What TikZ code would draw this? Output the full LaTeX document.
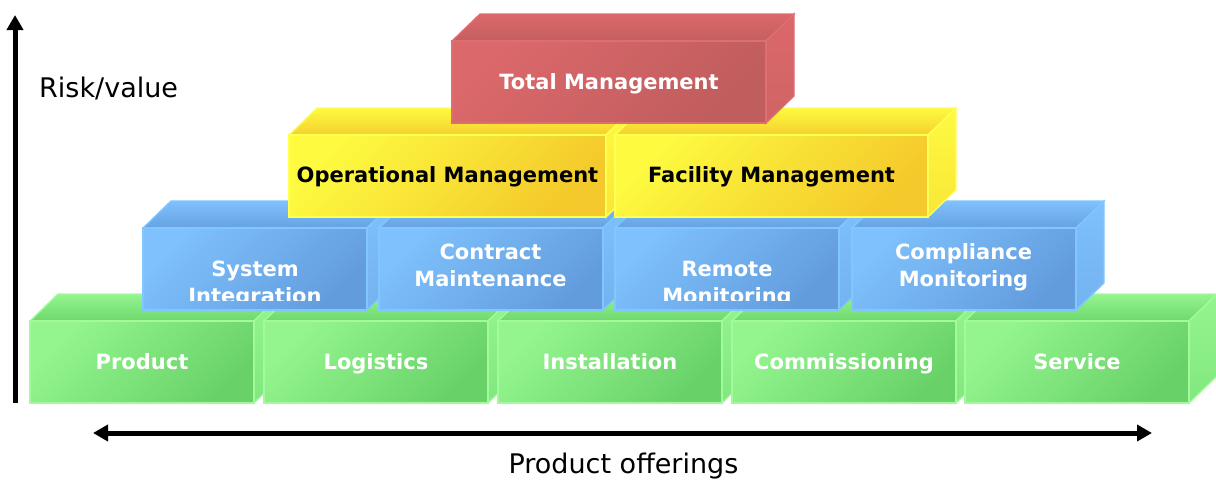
\documentclass[tikz,border=0pt]{standalone}
\usepackage{fontspec}
\setmainfont{DejaVu Sans}
\usetikzlibrary{
    arrows.meta
}

\definecolor{grnA}{HTML}{94F58E}
\definecolor{grnB}{HTML}{68D268}
\definecolor{grnEdge}{HTML}{A2FA9C}
\definecolor{bluA}{HTML}{7EC1FC}
\definecolor{bluB}{HTML}{639CDD}
\definecolor{bluEdge}{HTML}{80C6FF}
\definecolor{ylwA}{HTML}{FDFA40}
\definecolor{ylwB}{HTML}{F4C92B}
\definecolor{ylwEdge}{HTML}{FFFF55}
\definecolor{redA}{HTML}{DB686B}
\definecolor{redB}{HTML}{C05D5D}
\definecolor{redEdge}{HTML}{DE6E71}

\tikzset{
    frontface/.style={draw=#1Edge, line width=1.3, top color=#1A, bottom color=#1B, shading angle=45},
    topface/.style={draw=#1Edge, line width=1.3, top color=#1A, bottom color=#1B!85!#1A},
    sideface/.style={draw=#1Edge, line width=1.3, top color=#1A, bottom color=#1A!60!#1B},
    lbl/.style={font=\bfseries\fontsize{21}{27}\selectfont, text=white, inner sep=0, align=center, anchor=base},
    axlbl/.style={font=\fontsize{27}{32}\selectfont, inner sep=0},
    axis/.style={line width=5, -{Triangle[length=15pt,width=16pt]}}
}

% one box: colour, x, y (front top left), width
\newcommand{\block}[4]{%
    \draw[topface=#1] (#2,#3) -- ++(28,-27) -- ++(#4,0) -- ++(-28,27) -- cycle;
    \draw[sideface=#1] (#2+#4,#3) -- ++(28,-27) -- ++(0,82) -- ++(-28,27) -- cycle;
    \draw[frontface=#1] (#2,#3) rectangle ++(#4,82);
}

\begin{document}
\begin{tikzpicture}[x=1pt, y=-1pt]
    \useasboundingbox (0,0) rectangle (1216,480);

    \foreach \x in {30,264,498,732,965} {\block{grn}{\x}{321}{224}}
    \foreach \x in {143,379,615,852} {\block{blu}{\x}{228}{224}}
    \block{ylw}{289}{135}{317}
    \block{ylw}{615}{135}{313}
    \block{red}{452}{41}{314}

    \node[lbl] (prod) at (142,369) {Product};
    \node[lbl] (logi) at (376,369) {Logistics};
    \node[lbl] (inst) at (610,369) {Installation};
    \node[lbl] (comm) at (844,369) {Commissioning};
    \node[lbl] (serv) at (1077,369) {Service};

    \begin{scope}
        \clip (140,228) rectangle (850,300.5);
        \node[lbl, anchor=north] (sysint) at (255,260.5) {System\\Integration};
        \node[lbl, anchor=north] (remote) at (727,260.5) {Remote\\Monitoring};
    \end{scope}
    \node[lbl, anchor=north] (contr) at (490.5,243.5) {Contract\\Maintenance};
    \node[lbl, anchor=north] (compl) at (963.5,243.5) {Compliance\\Monitoring};

    \node[lbl, text=black] (opm) at (447.5,182) {Operational Management};
    \node[lbl, text=black] (fm) at (771.5,182) {Facility Management};
    \node[lbl] (tm) at (609,89) {Total Management};

    \coordinate (ybot) at (15,403);
    \coordinate (ytop) at (15,15);
    \coordinate (xleft) at (93,433);
    \coordinate (xright) at (1152,433);
    \draw[axis] (ybot) -- (ytop);
    \draw[axis, {Triangle[length=15pt,width=16pt]}-{Triangle[length=15pt,width=16pt]}] (xleft) -- (xright);

    \node[axlbl, anchor=base west] (risk) at (39,97) {Risk/value};
    \node[axlbl, anchor=base] (offer) at (623.5,473) {Product offerings};
\end{tikzpicture}
\end{document}
